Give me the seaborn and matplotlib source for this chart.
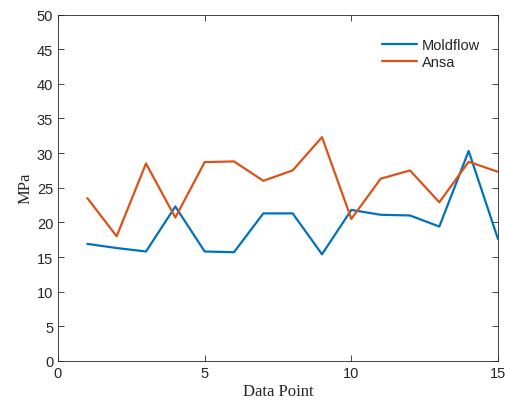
import numpy as np
import pandas as pd
import seaborn as sns
import matplotlib.pyplot as plt

# values
points = list(range(1, 16))
moldflow = [16.9, 16.3, 15.8, 22.3, 15.8, 15.7, 21.3, 21.3, 15.4, 21.8, 21.1, 21.0, 19.4, 30.3, 17.6]
ansa = [23.5, 18.0, 28.5, 20.7, 28.7, 28.8, 26.0, 27.5, 32.3, 20.5, 26.3, 27.5, 22.9, 28.75, 27.3]

df = pd.DataFrame({
    'Data Point': points * 2,
    'MPa': moldflow + ansa,
    'series': ['Moldflow'] * len(points) + ['Ansa'] * len(points),
})

sns.set_style('white')
plt.rcParams['font.family'] = ['Liberation Sans', 'DejaVu Sans']

fig = plt.figure(figsize=(5.06, 4.06), dpi=100)
ax = fig.add_axes([58 / 506, 44 / 406, 440 / 506, 346.5 / 406])

sns.lineplot(data=df, x='Data Point', y='MPa', hue='series',
             palette={'Moldflow': '#0072BD', 'Ansa': '#D95319'},
             linewidth=1.6, ax=ax)

ax.set_xlim(0, 15)
ax.set_ylim(0, 50)
ax.set_xticks([0, 5, 10, 15])
ax.set_yticks(np.arange(0, 51, 5))

for s in ax.spines.values():
    s.set_color('#262626')
    s.set_linewidth(0.6)
ax.tick_params(direction='in', length=4.5, width=0.6, color='#262626',
               labelsize=10.5, labelcolor='#262626', top=True, right=True,
               bottom=True, left=True)

ax.set_xlabel('Data Point', family='Liberation Serif', fontsize=12, color='#262626', labelpad=2)
ax.set_ylabel('MPa', family='Liberation Serif', fontsize=12, color='#262626', labelpad=2)

ax.legend(title=None, loc='upper right', frameon=False, fontsize=10.5,
          handlelength=2.4, handletextpad=0.35, labelspacing=0.2,
          bbox_to_anchor=(0.99, 0.97))

fig.savefig('out.png', dpi=100)
